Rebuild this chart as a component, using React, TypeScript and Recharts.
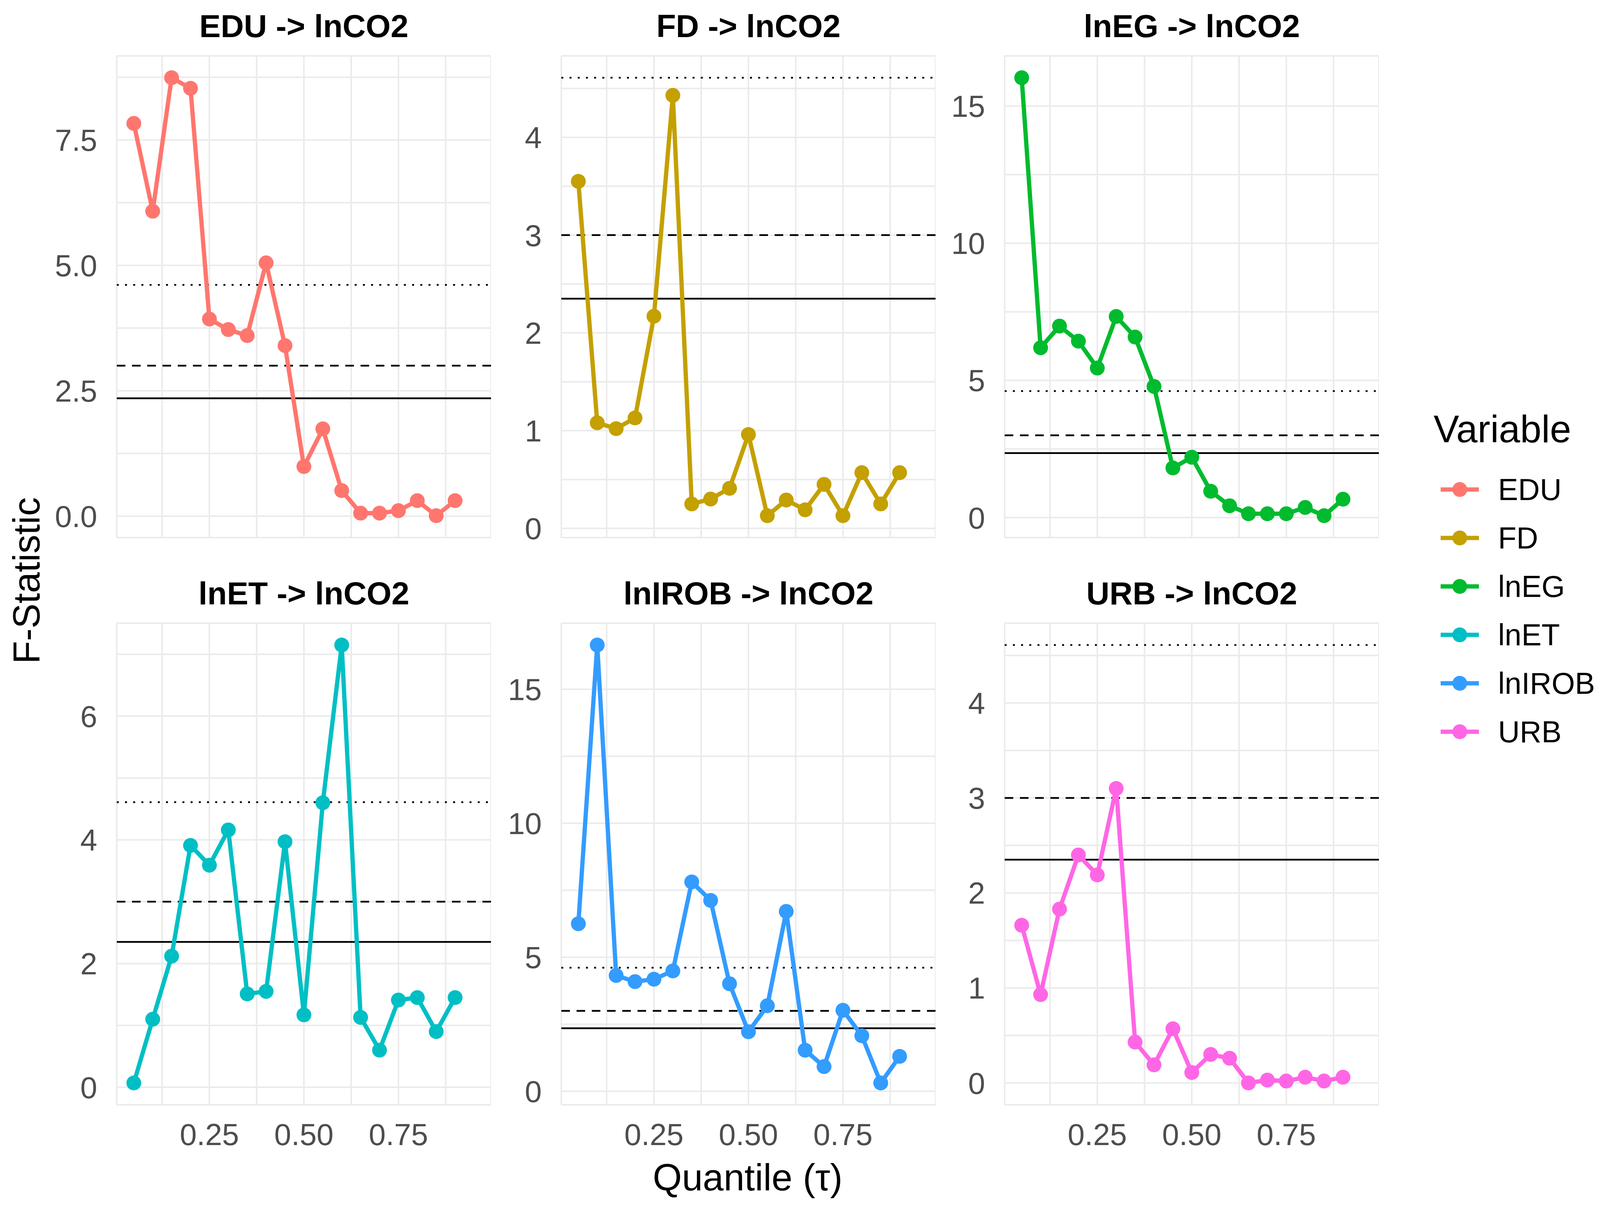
import React from 'react'
import { CartesianGrid, Line, LineChart, ReferenceLine, XAxis, YAxis } from 'recharts'

// quantiles tau on the x axis (same for every panel)
const quantiles = [
  0.05, 0.1, 0.15, 0.2, 0.25, 0.3, 0.35, 0.4, 0.45, 0.5, 0.55, 0.6, 0.65, 0.7, 0.75, 0.8, 0.85, 0.9,
]

// F-statistics per variable
const EDU = [7.83, 6.08, 8.74, 8.53, 3.93, 3.72, 3.6, 5.05, 3.4, 0.99, 1.74, 0.51, 0.06, 0.06, 0.11, 0.31, 0.01, 0.31]
const FD = [3.55, 1.08, 1.02, 1.13, 2.17, 4.43, 0.25, 0.3, 0.41, 0.96, 0.13, 0.29, 0.19, 0.45, 0.13, 0.57, 0.25, 0.57]
const lnEG = [16.03, 6.19, 6.98, 6.43, 5.45, 7.33, 6.58, 4.78, 1.81, 2.2, 0.96, 0.43, 0.14, 0.14, 0.14, 0.37, 0.07, 0.67]
const lnET = [0.07, 1.1, 2.12, 3.91, 3.59, 4.16, 1.51, 1.55, 3.97, 1.17, 4.6, 7.15, 1.13, 0.6, 1.41, 1.45, 0.9, 1.45]
const lnIROB = [6.25, 16.65, 4.32, 4.09, 4.18, 4.49, 7.81, 7.12, 4.01, 2.22, 3.19, 6.71, 1.53, 0.92, 3.02, 2.07, 0.31, 1.3]
const URB = [1.66, 0.93, 1.83, 2.4, 2.19, 3.1, 0.43, 0.19, 0.57, 0.11, 0.3, 0.26, 0.0, 0.03, 0.02, 0.06, 0.02, 0.06]

// critical values (10%, 5%, 1%)
const crit10 = 2.35
const crit5 = 3.0
const crit1 = 4.61

// tick labels / grid values
const xLabelTicks = [0.25, 0.5, 0.75]
const xMinorTicks = [0.125, 0.375, 0.625, 0.875]
const yTicksHalf = [0, 2.5, 5, 7.5]
const yMinorHalf = [1.25, 3.75, 6.25, 8.75]
const yTicksOne = [0, 1, 2, 3, 4]
const yMinorOne = [0.5, 1.5, 2.5, 3.5, 4.5]
const yTicksFive = [0, 5, 10, 15]
const yMinorFive = [2.5, 7.5, 12.5]
const yTicksTwo = [0, 2, 4, 6]
const yMinorTwo = [1, 3, 5, 7]

const variables = ['EDU', 'FD', 'lnEG', 'lnET', 'lnIROB', 'URB']
const colors = ['#FF766E', '#C4A000', '#00BB2E', '#00BFC4', '#339CFF', '#FF66E6']

const FONT = '"Liberation Sans", Arial, Helvetica, sans-serif'
const PANEL_W = 958
const PANEL_H = 1233
const AXIS_W = 220
const X_AXIS_H = 150
const PAD = 60 // room above / below the panel so edge labels are not clipped
const COL_X = [299, 1437, 2572]
const ROW_Y = [143, 1595]

type PanelProps = {
  name: string
  values: number[]
  color: string
  majors: number[]
  minors: number[]
  decimals: number
  col: number
  row: number
}

function Panel({ name, values, color, majors, minors, decimals, col, row }: PanelProps) {
  const data = quantiles.map((q, i) => ({ q, f: values[i] }))
  const all = [...values, crit10, crit5, crit1]
  const lo = Math.min(...all)
  const hi = Math.max(...all)
  const pad = (hi - lo) * 0.05
  const bottom = row === 1
  const yTicks = [...majors, ...minors].sort((a, b) => a - b)
  const xTicks = [...xLabelTicks, ...xMinorTicks].sort((a, b) => a - b)

  return (
    <>
      <div
        style={{
          position: 'absolute',
          left: COL_X[col],
          top: ROW_Y[row] - 126,
          width: PANEL_W,
          height: 100,
          lineHeight: '100px',
          textAlign: 'center',
          fontFamily: FONT,
          fontWeight: 'bold',
          fontSize: 82,
          color: '#000',
        }}
      >
        {name} -&gt; lnCO2
      </div>
      <div style={{ position: 'absolute', left: COL_X[col] - AXIS_W, top: ROW_Y[row] - PAD }}>
        <LineChart
          width={PANEL_W + AXIS_W}
          height={PANEL_H + PAD + (bottom ? X_AXIS_H : PAD)}
          data={data}
          margin={{ top: PAD, right: 0, bottom: bottom ? 0 : PAD, left: 0 }}
        >
          <CartesianGrid stroke="#EBEBEB" strokeWidth={4} />
          <XAxis
            dataKey="q"
            type="number"
            domain={[0.005, 0.995]}
            allowDataOverflow
            ticks={xTicks}
            interval={0}
            hide={!bottom}
            height={bottom ? X_AXIS_H : 0}
            axisLine={false}
            tickLine={false}
            tickSize={0}
            tickMargin={48}
            tickFormatter={(v: number) => (xLabelTicks.includes(v) ? v.toFixed(2) : '')}
            tick={{ fill: '#4D4D4D', fontSize: 78, fontFamily: FONT }}
          />
          <YAxis
            type="number"
            domain={[lo - pad, hi + pad]}
            allowDataOverflow
            ticks={yTicks}
            interval={0}
            width={AXIS_W}
            axisLine={false}
            tickLine={false}
            tickSize={0}
            tickMargin={50}
            tickFormatter={(v: number) => (majors.includes(v) ? v.toFixed(decimals) : '')}
            tick={{ fill: '#4D4D4D', fontSize: 78, fontFamily: FONT }}
          />
          <ReferenceLine y={crit10} stroke="#000" strokeWidth={4.5} />
          <ReferenceLine y={crit5} stroke="#000" strokeWidth={4.5} strokeDasharray="22 17" />
          <ReferenceLine y={crit1} stroke="#000" strokeWidth={4.5} strokeDasharray="5 16" />
          <Line
            dataKey="f"
            stroke={color}
            strokeWidth={11}
            dot={{ r: 19, fill: color, stroke: 'none' }}
            isAnimationActive={false}
          />
        </LineChart>
      </div>
    </>
  )
}

const LEGEND_Y = [1253, 1377, 1501, 1625, 1749, 1873]

export default function App() {
  const series = [EDU, FD, lnEG, lnET, lnIROB, URB]
  const majors = [yTicksHalf, yTicksOne, yTicksFive, yTicksTwo, yTicksFive, yTicksOne]
  const minors = [yMinorHalf, yMinorOne, yMinorFive, yMinorTwo, yMinorFive, yMinorOne]

  return (
    <div
      style={{
        position: 'absolute',
        left: 0,
        top: 0,
        width: 4120,
        height: 3110,
        background: '#fff',
        fontFamily: FONT,
        overflow: 'hidden',
      }}
    >
      {variables.map((v, i) => (
        <Panel
          key={v}
          name={v}
          values={series[i]}
          color={colors[i]}
          majors={majors[i]}
          minors={minors[i]}
          decimals={i === 0 ? 1 : 0}
          col={i % 3}
          row={Math.floor(i / 3)}
        />
      ))}

      {/* axis titles */}
      <div
        style={{
          position: 'absolute',
          left: 1914 - 500,
          top: 3014 - 60,
          width: 1000,
          height: 120,
          lineHeight: '120px',
          textAlign: 'center',
          fontSize: 96,
          color: '#000',
        }}
      >
        Quantile (τ)
      </div>
      <div
        style={{
          position: 'absolute',
          left: 68 - 500,
          top: 1486 - 60,
          width: 1000,
          height: 120,
          lineHeight: '120px',
          textAlign: 'center',
          fontSize: 96,
          color: '#000',
          transform: 'rotate(-90deg)',
        }}
      >
        F-Statistic
      </div>

      {/* legend */}
      <div
        style={{
          position: 'absolute',
          left: 3670,
          top: 1098 - 60,
          height: 120,
          lineHeight: '120px',
          fontSize: 98,
          color: '#000',
        }}
      >
        Variable
      </div>
      {variables.map((v, i) => (
        <React.Fragment key={v}>
          <svg
            style={{ position: 'absolute', left: 3688, top: LEGEND_Y[i] - 25 }}
            width={98}
            height={50}
          >
            <line x1={0} x2={98} y1={25} y2={25} stroke={colors[i]} strokeWidth={11} />
            <circle cx={49} cy={25} r={19} fill={colors[i]} />
          </svg>
          <div
            style={{
              position: 'absolute',
              left: 3835,
              top: LEGEND_Y[i] - 50,
              height: 100,
              lineHeight: '100px',
              fontSize: 77,
              color: '#000',
            }}
          >
            {v}
          </div>
        </React.Fragment>
      ))}
    </div>
  )
}
